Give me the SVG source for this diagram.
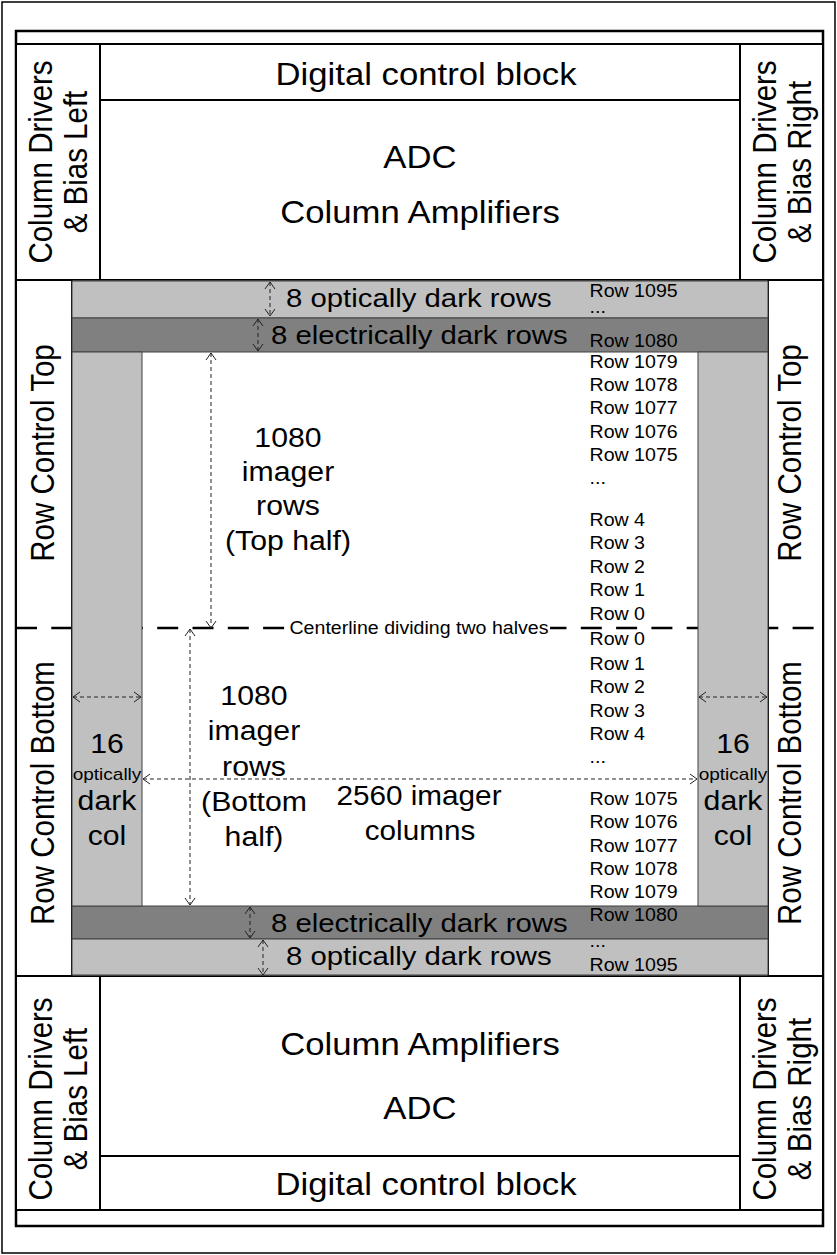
<svg xmlns="http://www.w3.org/2000/svg" width="837" height="1255" viewBox="0 0 837 1255">
<style>
.t{font-family:"Liberation Sans",Arial,sans-serif;fill:#000}
.m{text-anchor:middle}
.big{font-size:31px}
.rot{font-size:29.5px}
.mid{font-size:27px}
.band{font-size:26.2px}
.lbl{font-size:17.5px}
.sm{font-size:17px}
.box{fill:#fff;stroke:#000;stroke-width:2}
.ln{fill:none;stroke:#000;stroke-width:2}
.lg{fill:#c0c0c0;stroke:#404040;stroke-width:1}
.dg{fill:#808080;stroke:#404040;stroke-width:1}
.dim{fill:none;stroke:#222;stroke-width:1;stroke-dasharray:4 3;marker-start:url(#ah);marker-end:url(#ah)}
</style>
<defs>
<marker id="ah" viewBox="0 0 8 12" refX="7.5" refY="6" markerWidth="8" markerHeight="12" markerUnits="userSpaceOnUse" orient="auto-start-reverse">
<path d="M0.5,1 L7.5,6 L0.5,11" fill="none" stroke="#222" stroke-width="1"/>
</marker>
</defs>
<rect x="0" y="0" width="837" height="1255" fill="#fff"/>
<g id="frame">
<rect x="2" y="2" width="833" height="1251" fill="none" stroke="#000" stroke-width="1.5"/>
<rect x="16" y="31" width="807" height="1195" fill="none" stroke="#000" stroke-width="2.5"/>
<line class="ln" x1="16" y1="44" x2="823" y2="44"/>
<line class="ln" x1="16" y1="1210" x2="823" y2="1210"/>
</g>
<g id="col-drivers-top-left">
<rect class="box" x="16" y="44" width="84" height="236"/>
<text class="t rot m" transform="translate(52,162) scale(1.12,1) rotate(-90)">Column Drivers</text>
<text class="t rot m" transform="translate(87,162) scale(1.12,1) rotate(-90)">&amp; Bias Left</text>
</g>
<g id="digital-top">
<rect class="box" x="100" y="44" width="640" height="56"/>
<text class="t big m" transform="translate(426,85) scale(1.12,1)">Digital control block</text>
</g>
<g id="adc-top">
<rect class="box" x="100" y="100" width="640" height="180"/>
<text class="t big m" transform="translate(420,168) scale(1.12,1)">ADC</text>
<text class="t big m" transform="translate(420,223) scale(1.12,1)">Column Amplifiers</text>
</g>
<g id="col-drivers-top-right">
<rect class="box" x="740" y="44" width="83" height="236"/>
<text class="t rot m" transform="translate(776,162) scale(1.12,1) rotate(-90)">Column Drivers</text>
<text class="t rot m" transform="translate(811,162) scale(1.12,1) rotate(-90)">&amp; Bias Right</text>
</g>
<g id="row-control-left">
<rect class="box" x="16" y="280" width="56" height="696"/>
<text class="t rot m" transform="translate(54,453) scale(1.12,1) rotate(-90)">Row Control Top</text>
<text class="t rot m" transform="translate(54,793) scale(1.12,1) rotate(-90)">Row Control Bottom</text>
</g>
<g id="row-control-right">
<rect class="box" x="768" y="280" width="55" height="696"/>
<text class="t rot m" transform="translate(801,453) scale(1.12,1) rotate(-90)">Row Control Top</text>
<text class="t rot m" transform="translate(801,793) scale(1.12,1) rotate(-90)">Row Control Bottom</text>
</g>
<g id="col-drivers-bottom-left">
<rect class="box" x="16" y="976" width="84" height="234"/>
<text class="t rot m" transform="translate(52,1099) scale(1.12,1) rotate(-90)">Column Drivers</text>
<text class="t rot m" transform="translate(87,1099) scale(1.12,1) rotate(-90)">&amp; Bias Left</text>
</g>
<g id="adc-bottom">
<rect class="box" x="100" y="976" width="640" height="180"/>
<text class="t big m" transform="translate(420,1055) scale(1.12,1)">Column Amplifiers</text>
<text class="t big m" transform="translate(420,1119) scale(1.12,1)">ADC</text>
</g>
<g id="digital-bottom">
<rect class="box" x="100" y="1156" width="640" height="54"/>
<text class="t big m" transform="translate(426,1195) scale(1.12,1)">Digital control block</text>
</g>
<g id="col-drivers-bottom-right">
<rect class="box" x="740" y="976" width="83" height="234"/>
<text class="t rot m" transform="translate(776,1099) scale(1.12,1) rotate(-90)">Column Drivers</text>
<text class="t rot m" transform="translate(811,1099) scale(1.12,1) rotate(-90)">&amp; Bias Right</text>
</g>
<g id="pixel-array">
<rect x="72" y="280" width="696" height="696" fill="#fff" stroke="#000" stroke-width="1.5"/>
</g>
<g id="optical-rows-top">
<rect class="lg" x="72" y="281" width="696" height="37"/>
<text class="t band" transform="translate(286,307) scale(1.12,1)">8 optically dark rows</text>
</g>
<g id="electrical-rows-top">
<rect class="dg" x="72" y="318" width="696" height="34"/>
<text class="t band" transform="translate(271,344) scale(1.12,1)">8 electrically dark rows</text>
</g>
<g id="electrical-rows-bottom">
<rect class="dg" x="72" y="906" width="696" height="33"/>
<text class="t band" transform="translate(271,932) scale(1.12,1)">8 electrically dark rows</text>
</g>
<g id="optical-rows-bottom">
<rect class="lg" x="72" y="939" width="696" height="36"/>
<text class="t band" transform="translate(286,965) scale(1.12,1)">8 optically dark rows</text>
</g>
<g id="centerline">
<line x1="16" y1="628" x2="823" y2="628" stroke="#000" stroke-width="2.5" stroke-dasharray="21 14.3"/>
<rect x="286" y="618" width="264" height="20" fill="#fff"/>
<text class="t lbl m" transform="translate(419,634) scale(1.12,1)">Centerline dividing two halves</text>
</g>
<g id="dark-col-left">
<rect class="lg" x="72" y="352" width="70" height="554"/>
<text class="t mid m" transform="translate(107,753) scale(1.12,1)">16</text>
<text class="t sm m" transform="translate(107,780) scale(1.12,1)">optically</text>
<text class="t mid m" transform="translate(107,810) scale(1.12,1)">dark</text>
<text class="t mid m" transform="translate(107,845) scale(1.12,1)">col</text>
</g>
<g id="dark-col-right">
<rect class="lg" x="698" y="352" width="70" height="554"/>
<text class="t mid m" transform="translate(733,753) scale(1.12,1)">16</text>
<text class="t sm m" transform="translate(733,780) scale(1.12,1)">optically</text>
<text class="t mid m" transform="translate(733,810) scale(1.12,1)">dark</text>
<text class="t mid m" transform="translate(733,845) scale(1.12,1)">col</text>
</g>
<g id="imager-top-half">
<text class="t mid m" transform="translate(288,447) scale(1.12,1)">1080</text>
<text class="t mid m" transform="translate(288,481) scale(1.12,1)">imager</text>
<text class="t mid m" transform="translate(288,515) scale(1.12,1)">rows</text>
<text class="t mid m" transform="translate(288,550) scale(1.12,1)">(Top half)</text>
</g>
<g id="imager-bottom-half">
<text class="t mid m" transform="translate(254,705) scale(1.12,1)">1080</text>
<text class="t mid m" transform="translate(254,740) scale(1.12,1)">imager</text>
<text class="t mid m" transform="translate(254,776) scale(1.12,1)">rows</text>
<text class="t mid m" transform="translate(254,811) scale(1.12,1)">(Bottom</text>
<text class="t mid m" transform="translate(254,846) scale(1.12,1)">half)</text>
</g>
<g id="imager-columns">
<text class="t mid m" transform="translate(419,805) scale(1.1,1)">2560 imager</text>
<text class="t mid m" transform="translate(420,840) scale(1.1,1)">columns</text>
</g>
<g id="row-labels" class="t lbl">
<text transform="translate(589.5,297) scale(1.12,1)">Row 1095</text>
<text transform="translate(589.5,313) scale(1.12,1)">...</text>
<text transform="translate(589.5,347) scale(1.12,1)">Row 1080</text>
<text transform="translate(589.5,368) scale(1.12,1)">Row 1079</text>
<text transform="translate(589.5,391) scale(1.12,1)">Row 1078</text>
<text transform="translate(589.5,414) scale(1.12,1)">Row 1077</text>
<text transform="translate(589.5,438) scale(1.12,1)">Row 1076</text>
<text transform="translate(589.5,461) scale(1.12,1)">Row 1075</text>
<text transform="translate(589.5,484) scale(1.12,1)">...</text>
<text transform="translate(589.5,526) scale(1.12,1)">Row 4</text>
<text transform="translate(589.5,549) scale(1.12,1)">Row 3</text>
<text transform="translate(589.5,573) scale(1.12,1)">Row 2</text>
<text transform="translate(589.5,596) scale(1.12,1)">Row 1</text>
<text transform="translate(589.5,620) scale(1.12,1)">Row 0</text>
<text transform="translate(589.5,645) scale(1.12,1)">Row 0</text>
<text transform="translate(589.5,670) scale(1.12,1)">Row 1</text>
<text transform="translate(589.5,693) scale(1.12,1)">Row 2</text>
<text transform="translate(589.5,717) scale(1.12,1)">Row 3</text>
<text transform="translate(589.5,740) scale(1.12,1)">Row 4</text>
<text transform="translate(589.5,763) scale(1.12,1)">...</text>
<text transform="translate(589.5,805) scale(1.12,1)">Row 1075</text>
<text transform="translate(589.5,828) scale(1.12,1)">Row 1076</text>
<text transform="translate(589.5,852) scale(1.12,1)">Row 1077</text>
<text transform="translate(589.5,875) scale(1.12,1)">Row 1078</text>
<text transform="translate(589.5,898) scale(1.12,1)">Row 1079</text>
<text transform="translate(589.5,921) scale(1.12,1)">Row 1080</text>
<text transform="translate(589.5,947) scale(1.12,1)">...</text>
<text transform="translate(589.5,971) scale(1.12,1)">Row 1095</text>
</g>
<g id="connectors">
<line class="dim" x1="270" y1="282" x2="270" y2="316"/>
<line class="dim" x1="258" y1="319" x2="258" y2="351"/>
<line class="dim" x1="211" y1="353" x2="211" y2="628"/>
<line class="dim" x1="190" y1="629" x2="190" y2="905"/>
<line class="dim" x1="250" y1="907" x2="250" y2="938"/>
<line class="dim" x1="263" y1="940" x2="263" y2="975"/>
<line class="dim" x1="73" y1="697" x2="141" y2="697"/>
<line class="dim" x1="699" y1="697" x2="767" y2="697"/>
<line class="dim" x1="143" y1="779" x2="697" y2="779"/>
</g>
</svg>
